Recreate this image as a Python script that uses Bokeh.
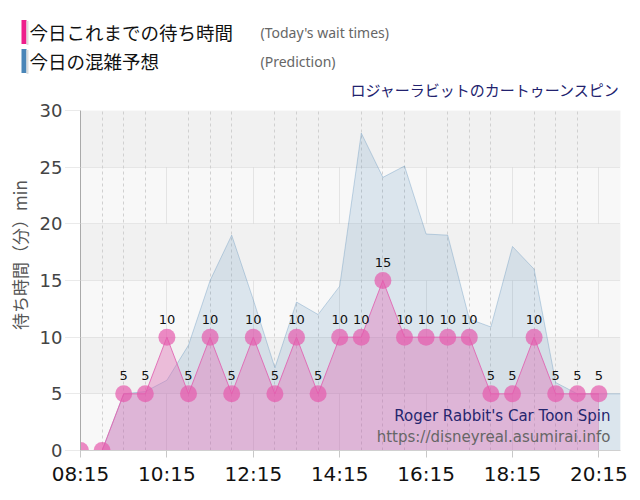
from bokeh.plotting import figure
from bokeh.layouts import column, row
from bokeh.models import Range1d, FixedTicker, Label, ColumnDataSource, Grid
from bokeh.embed import file_html
from bokeh.resources import INLINE
from bokeh.core.properties import value

# ---- data ----
times = ["08:15", "08:45", "09:15", "09:45", "10:15", "10:45", "11:15", "11:45",
         "12:15", "12:45", "13:15", "13:45", "14:15", "14:45", "15:15", "15:45",
         "16:15", "16:45", "17:15", "17:45", "18:15", "18:45", "19:15", "19:45", "20:15"]
wait = [0, 0, 5, 5, 10, 5, 10, 5, 10, 5, 10, 5, 10, 10, 15, 10, 10, 10, 10, 5, 5, 10, 5, 5, 5]
pred_times = times + ["20:45"]
pred = [0, 0, 5, 5.2, 6.2, 9.3, 15, 19, 13.3, 7.3, 13.1, 12, 14.5, 28, 24.1, 25.1,
        19.1, 19, 11.6, 10.9, 18, 16, 6, 5, 5, 5]
x_tick_labels = ["08:15", "10:15", "12:15", "14:15", "16:15", "18:15", "20:15"]
y_ticks = [0, 5, 10, 15, 20, 25, 30]

title_jp = "ロジャーラビットのカートゥーンスピン"
title_en = "Roger Rabbit's Car Toon Spin"
site = "https://disneyreal.asumirai.info"
legend_jp = ["今日これまでの待ち時間", "今日の混雑予想"]
legend_en = ["(Today's wait times)", "(Prediction)"]
legend_colors = ["#ee1f8c", "#4a86b8"]
y_title = "待ち時間（分）min"


def to_h(t):
    h, m = t.split(":")
    return int(h) + int(m) / 60.0


wx = [to_h(t) for t in times]
px_ = [to_h(t) for t in pred_times]
x_major = [to_h(t) for t in x_tick_labels]
x_minor = [h for h in wx if h not in x_major]

X_START, X_END = 8.25, 20.75
W = 632
HEAD_H = 99

# ---------------- header (legend + title) ----------------
head = figure(width=W, height=HEAD_H, x_range=Range1d(0, W), y_range=Range1d(HEAD_H, 0),
              output_backend="svg", toolbar_location=None, min_border=0,
              min_border_left=0, min_border_right=0, min_border_top=0, min_border_bottom=0,
              x_axis_type=None, y_axis_type=None)
head.outline_line_color = None
head.xgrid.visible = False
head.ygrid.visible = False
head.background_fill_color = "white"
head.border_fill_color = "white"

rows_y = [31.5, 60.5]
head.quad(left=[21, 21], right=[26, 26], top=[y - 12 for y in rows_y], bottom=[y + 12 for y in rows_y],
          fill_color=legend_colors, line_color=None)
head.quad(left=[26, 26], right=[28, 28], top=[y - 11 for y in rows_y], bottom=[y + 13 for y in rows_y],
          fill_color="#dddddd", line_color=None)
head.text(x=[29, 29], y=rows_y, text=legend_jp, text_align="left", text_baseline="middle",
          text_font=value("Noto Sans CJK JP"), text_font_size="18.5px", text_color="#111111")
head.text(x=[260, 260], y=rows_y, text=legend_en, text_align="left", text_baseline="middle",
          text_font=value("Noto Sans"), text_font_size="14px", text_color="#666666")
head.text(x=[620], y=[89], text=[title_jp], text_align="right", text_baseline="middle",
          text_font=value("Noto Sans CJK JP"), text_font_size="15px", text_color="#22226e")

# ---------------- chart ----------------
p = figure(width=W, height=500 - 8 - HEAD_H, x_range=Range1d(X_START, X_END), y_range=Range1d(0, 30),
           output_backend="svg", toolbar_location=None,
           min_border_left=80, min_border_right=12, min_border_top=110 - HEAD_H, min_border_bottom=42)
p.background_fill_color = "#f8f8f8"
p.border_fill_color = "white"
p.outline_line_color = None

# grids
p.ygrid.ticker = FixedTicker(ticks=y_ticks)
p.ygrid.grid_line_color = "#d4d4d4"
p.ygrid.grid_line_dash = "1 1"
p.ygrid.band_fill_color = "#f1f1f1"
p.ygrid.band_fill_alpha = 1.0
p.xgrid.ticker = FixedTicker(ticks=x_major)
p.xgrid.grid_line_color = "#d0d0d0"
p.xgrid.grid_line_dash = "1 1"
minor_grid = Grid(dimension=0, ticker=FixedTicker(ticks=x_minor),
                  grid_line_color="#d0d0d0", grid_line_dash="3 3")
p.add_layout(minor_grid)

# axes
p.xaxis.ticker = FixedTicker(ticks=x_major)
p.xaxis.major_label_overrides = {h: lab for h, lab in zip(x_major, x_tick_labels)}
p.xaxis.axis_line_color = "#d0d0d0"
p.xaxis.major_tick_line_color = "#c8c8c8"
p.xaxis.major_tick_out = 7
p.xaxis.major_tick_in = 0
p.xaxis.minor_tick_line_color = None
p.xaxis.major_label_text_font = "DejaVu Sans"
p.xaxis.major_label_text_font_size = "20px"
p.xaxis.major_label_text_color = "#111111"
p.xaxis.major_label_standoff = 4

p.yaxis.ticker = FixedTicker(ticks=y_ticks)
p.yaxis.axis_line_color = "#aaaaaa"
p.yaxis.major_tick_line_color = "#d4d4d4"
p.yaxis.major_tick_line_dash = "1 1"
p.yaxis.major_tick_out = 15
p.yaxis.major_tick_in = 0
p.yaxis.minor_tick_line_color = None
p.yaxis.major_label_text_font = "DejaVu Sans"
p.yaxis.major_label_text_font_size = "18px"
p.yaxis.major_label_text_color = "#444444"
p.yaxis.major_label_standoff = 3
# leading ideographic spaces shift the centred label upwards, as in the reference
p.yaxis.axis_label = "\u3000\u3000\u3000" + y_title
p.yaxis.axis_label_text_font = "Noto Sans CJK JP"
p.yaxis.axis_label_text_font_size = "17px"
p.yaxis.axis_label_text_font_style = "normal"
p.yaxis.axis_label_text_color = "#555555"
p.yaxis.axis_label_standoff = 5

# prediction area
psrc = ColumnDataSource(dict(x=px_, y=pred))
p.varea(x="x", y1=0, y2="y", source=psrc, fill_color="#4682b4", fill_alpha=0.16)
p.line(x="x", y="y", source=psrc, line_color="#4682b4", line_alpha=0.3, line_width=1)

# actual wait times
wsrc = ColumnDataSource(dict(x=wx, y=wait, lab=[str(v) if v > 0 else "" for v in wait]))
p.varea(x="x", y1=0, y2="y", source=wsrc, fill_color="#e266b4", fill_alpha=0.38)
p.line(x="x", y="y", source=wsrc, line_color="#e060b0", line_alpha=0.85, line_width=1)
p.scatter(x="x", y="y", source=wsrc, size=17, fill_color="#e65aad", fill_alpha=0.7, line_color=None)
p.text(x="x", y="y", text="lab", source=wsrc, y_offset=-18, text_align="center",
       text_baseline="middle", text_font=value("DejaVu Sans"), text_font_size="13px",
       text_color="#111111")

# watermark (inside the frame)
FRAME_L, FRAME_R, FRAME_T, FRAME_B = 80, 620, 110, 450
def dx(px):
    return X_START + (px - FRAME_L) * (X_END - X_START) / (FRAME_R - FRAME_L)
def dy(py):
    return (FRAME_B - py) * 30.0 / (FRAME_B - FRAME_T)

p.add_layout(Label(x=dx(610), y=dy(415), text=title_en, text_align="right", text_baseline="middle",
                   text_font="DejaVu Sans", text_font_size="15px", text_color="#26266e"))
p.add_layout(Label(x=dx(610), y=dy(436), text=site, text_align="right", text_baseline="middle",
                   text_font="DejaVu Sans", text_font_size="15px", text_color="#666666"))

layout = column(row(head, spacing=0), p, spacing=0)
open("out.html", "w").write(file_html(layout, INLINE))
